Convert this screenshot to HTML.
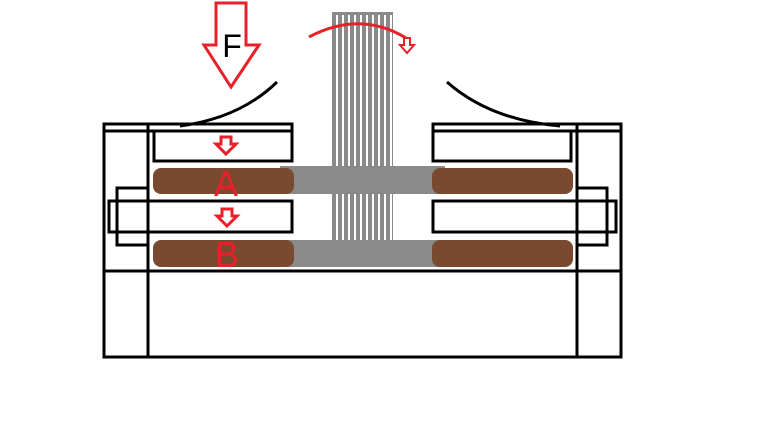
<!DOCTYPE html>
<html><head><style>body{margin:0;background:#fff}svg{display:block}</style></head><body>
<svg width="777" height="425" viewBox="0 0 777 425" xmlns="http://www.w3.org/2000/svg">
<defs>
<pattern id="g" x="332" y="0" width="6" height="10" patternUnits="userSpaceOnUse">
<rect x="0" y="0" width="4" height="10" fill="#8a8a8a"/>
</pattern>
</defs>
<rect x="332" y="12" width="61" height="160" fill="url(#g)"/>
<rect x="332" y="12" width="61" height="3" fill="#8a8a8a"/>
<rect x="280" y="166" width="165" height="28" fill="#8a8a8a"/>
<rect x="280" y="240" width="165" height="27" fill="#8a8a8a"/>
<rect x="332" y="194" width="61" height="46" fill="url(#g)"/>
<rect x="153" y="168" width="141" height="26" rx="8" fill="#7a4a30"/>
<rect x="153" y="240" width="141" height="27" rx="8" fill="#7a4a30"/>
<rect x="432" y="168" width="141" height="26" rx="8" fill="#7a4a30"/>
<rect x="432" y="240" width="141" height="27" rx="8" fill="#7a4a30"/>
<g fill="none" stroke="#000" stroke-width="3">
<path d="M104 125 V357 H621 V125"/>
<line x1="148" y1="125" x2="148" y2="357"/>
<line x1="577" y1="125" x2="577" y2="357"/>
<line x1="104" y1="271" x2="621" y2="271"/>
<rect x="104" y="124" width="188" height="7"/>
<rect x="433" y="124" width="188" height="7"/>
<rect x="154" y="131" width="138" height="30"/>
<rect x="433" y="131" width="138" height="30"/>
<rect x="109" y="201" width="183" height="31"/>
<rect x="433" y="201" width="183" height="31"/>
<rect x="117" y="188" width="31" height="57"/>
<rect x="577" y="188" width="30" height="57"/>
<path d="M277 82 Q240 118 180 126"/>
<path d="M447 82 Q490 120 560 126"/>
</g>
<path d="M216 3 H246 V45 H259 L231 87 L204 45 H216 Z" fill="#fff" stroke="#e8202a" stroke-width="3"/>
<text x="232" y="57" font-family="Liberation Sans, sans-serif" font-size="32" text-anchor="middle" fill="#000">F</text>
<path d="M309 37 Q360 10 406 38" fill="none" stroke="#e8202a" stroke-width="3"/>
<path d="M404 38 V45 H400 L407 53 L414 45 H410 V38 Z" fill="#fff" stroke="#e8202a" stroke-width="2"/>
<path d="M221 137 H231 V144 H236 L226 154 L216 144 H221 Z" fill="#fff" stroke="#e8202a" stroke-width="3"/>
<path d="M222 209 H232 V216 H237 L227 226 L217 216 H222 Z" fill="#fff" stroke="#e8202a" stroke-width="3"/>
<g font-family="Liberation Sans, sans-serif" font-size="36" fill="#e8202a" text-anchor="middle">
<text x="226" y="196">A</text>
<text x="227" y="267">B</text>
</g>
</svg>
</body></html>
